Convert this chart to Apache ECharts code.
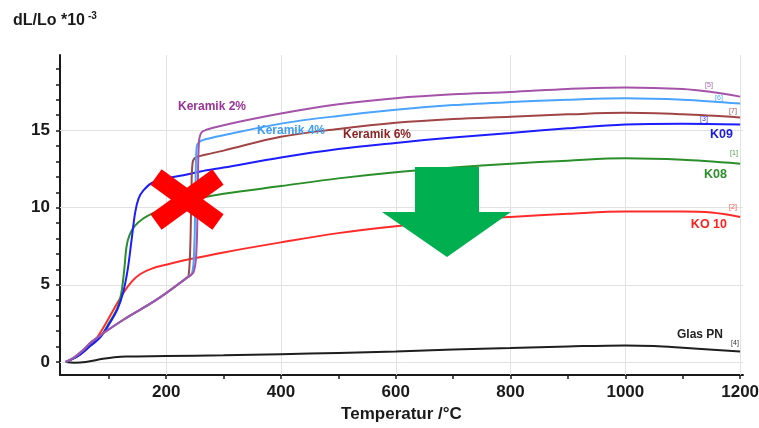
<!DOCTYPE html>
<html>
<head>
<meta charset="utf-8">
<script src="https://cdn.jsdelivr.net/npm/echarts@6/dist/echarts.min.js"></script>
<style>
html,body{margin:0;padding:0;background:#fff;}
#chart{width:759px;height:428px;}
</style>
</head>
<body>
<div id="chart"></div>
<script>
// Data: [temperature °C, dL/Lo *10^-3]
const k08 = [[25,0],[45,0.35],[65,0.95],[85,1.6],[100,2.5],[115,3.5],[122,4.5],[127,6.0],[131,7.5],[136,8.2],[145,8.8],[160,9.3],[180,9.7],[215,10.2],[250,10.55],[300,10.9],[400,11.4],[500,11.9],[600,12.3],[700,12.6],[800,12.85],[900,13.05],[1000,13.2],[1100,13.1],[1200,12.85]];
const k09 = [[25,0],[45,0.35],[65,0.95],[85,1.6],[100,2.4],[115,3.4],[125,4.5],[133,6.0],[140,8.0],[146,9.7],[152,10.6],[160,11.1],[175,11.6],[200,11.9],[230,12.1],[260,12.35],[300,12.6],[400,13.25],[500,13.8],[600,14.2],[700,14.55],[800,14.85],[900,15.15],[1000,15.4],[1100,15.45],[1200,15.4]];
const ko10 = [[25,0],[45,0.35],[65,0.95],[80,1.6],[95,2.5],[110,3.5],[126,4.5],[140,5.2],[155,5.7],[175,6.05],[200,6.3],[240,6.65],[300,7.1],[400,7.75],[500,8.35],[600,8.8],[700,9.15],[800,9.4],[900,9.6],[1000,9.75],[1100,9.75],[1150,9.68],[1200,9.4]];
const ker2 = [[25,0],[40,0.3],[55,0.75],[70,1.3],[124,2.7],[182,4.0],[234,5.4],[248,5.85],[253,7.5],[255,11],[257,14.2],[261,14.85],[270,15.05],[300,15.35],[400,16.1],[500,16.7],[600,17.1],[700,17.35],[800,17.5],[900,17.7],[1000,17.8],[1100,17.7],[1150,17.5],[1200,17.2]];
const ker4 = [[25,0],[40,0.3],[55,0.75],[70,1.3],[124,2.7],[182,4.0],[234,5.4],[245,5.75],[249,7.5],[251,11],[253,13.9],[257,14.25],[270,14.45],[300,14.7],[400,15.45],[500,15.95],[600,16.35],[700,16.65],[800,16.85],[900,17.0],[1000,17.1],[1100,17.0],[1200,16.75]];
const ker6 = [[25,0],[40,0.3],[55,0.75],[70,1.3],[124,2.7],[182,4.0],[234,5.4],[239,5.6],[242,7.5],[244,11],[246,12.9],[251,13.25],[270,13.45],[300,13.7],[400,14.6],[500,15.1],[600,15.5],[700,15.75],[800,15.9],[900,16.05],[1000,16.15],[1100,16.05],[1200,15.85]];
const glasPN = [[25,0],[40,-0.05],[60,0.0],[90,0.2],[110,0.3],[130,0.35],[200,0.38],[300,0.43],[400,0.5],[500,0.58],[600,0.68],[700,0.8],[800,0.9],[900,1.0],[1000,1.07],[1050,1.03],[1100,0.92],[1200,0.68]];

const xTickValues = [100,200,300,400,500,600,700,800,900,1000,1100,1200];
const xLabelValues = [200,400,600,800,1000,1200];
const yTickValues = [0,1,2,3,4,5,6,7,8,9,10,11,12,13,14,15,16,17,18,19];
const yLabelValues = [0,5,10,15];
const ySplitValues = [0,5,10,15];
const xSplitValues = [200,400,600,800,1000,1200];

const FONT = '"Liberation Sans", Arial, Helvetica, sans-serif';

const chart = echarts.init(document.getElementById('chart'), null, {renderer:'canvas'});

function lineSeries(name, data, color, width) {
  return {
    name: name, type: 'line', data: data, showSymbol: false, symbol: 'none',
    smooth: 0.35, z: 6,
    lineStyle: {color: color, width: width || 2},
    emphasis: {disabled: true}, silent: true, animation: false
  };
}

const gridMarks = [].concat(
  ySplitValues.map(v => ({yAxis: v})),
  xSplitValues.map(v => ({xAxis: v}))
);

const option = {
  animation: false,
  backgroundColor: '#ffffff',
  grid: {left: 60, right: 16, top: 55, bottom: 53, containLabel: false, outerBoundsMode: 'none'},
  xAxis: {
    type: 'value', min: 15, max: 1205,
    name: 'Temperatur /°C', nameLocation: 'middle', nameGap: 31,
    nameTextStyle: {fontFamily: FONT, fontWeight: 'bold', fontSize: 17, color: '#1a1a1a'},
    axisLine: {show: true, onZero: false, lineStyle: {color: '#1a1a1a', width: 2}},
    axisTick: {show: true, customValues: xTickValues, length: 4, lineStyle: {color: '#1a1a1a', width: 1.5}},
    axisLabel: {customValues: xLabelValues, formatter: v => String(v), fontFamily: FONT, fontWeight: 'bold', fontSize: 17, color: '#1a1a1a', margin: 9},
    splitLine: {show: false}
  },
  yAxis: {
    type: 'value', min: -0.85, max: 19.9,
    axisLine: {show: true, onZero: false, lineStyle: {color: '#1a1a1a', width: 2}},
    axisTick: {show: true, customValues: yTickValues, length: 4, lineStyle: {color: '#1a1a1a', width: 1.5}},
    axisLabel: {customValues: yLabelValues, formatter: v => String(v), fontFamily: FONT, fontWeight: 'bold', fontSize: 17, color: '#1a1a1a', margin: 10},
    splitLine: {show: false}
  },
  series: [
    {
      type: 'line', data: [], silent: true, z: 1,
      markLine: {
        silent: true, z: 1, symbol: ['none','none'], animation: false,
        label: {show: false}, emphasis: {disabled: true},
        lineStyle: {color: '#e2e2e2', width: 1, type: 'solid'},
        data: gridMarks
      }
    },
    lineSeries('Glas PN', glasPN, '#1e1e1e', 2),
    lineSeries('KO 10', ko10, '#ff2b2b', 2),
    lineSeries('K08', k08, '#2a8f2a', 2),
    lineSeries('K09', k09, '#1c1cff', 2),
    lineSeries('Keramik 6%', ker6, '#a04545', 2),
    lineSeries('Keramik 4%', ker4, '#4aa3ff', 2),
    lineSeries('Keramik 2%', ker2, '#a453a8', 2)
  ],
  graphic: [
    {type:'text', x:13, y:21, z:10, style:{text:'dL/Lo *10', font:'bold 16px ' + FONT, fill:'#1a1a1a', align:'left', verticalAlign:'middle'}},
    {type:'text', x:88, y:16, z:10, style:{text:'-3', font:'bold 10px ' + FONT, fill:'#1a1a1a', align:'left', verticalAlign:'middle'}},

    {type:'text', x:178, y:107, z:10, style:{text:'Keramik 2%', font:'bold 12px ' + FONT, fill:'#993399', align:'left', verticalAlign:'middle'}},
    {type:'text', x:257, y:131, z:10, style:{text:'Keramik 4%', font:'bold 12px ' + FONT, fill:'#3d9cf5', align:'left', verticalAlign:'middle'}},
    {type:'text', x:343, y:135, z:10, style:{text:'Keramik 6%', font:'bold 12px ' + FONT, fill:'#8b2323', align:'left', verticalAlign:'middle'}},
    {type:'text', x:733, y:135, z:10, style:{text:'K09', font:'bold 12.5px ' + FONT, fill:'#1c1ce0', align:'right', verticalAlign:'middle'}},
    {type:'text', x:727, y:175, z:10, style:{text:'K08', font:'bold 12.5px ' + FONT, fill:'#2a8f2a', align:'right', verticalAlign:'middle'}},
    {type:'text', x:727, y:225, z:10, style:{text:'KO 10', font:'bold 12.5px ' + FONT, fill:'#ff2020', align:'right', verticalAlign:'middle'}},
    {type:'text', x:723, y:335, z:10, style:{text:'Glas PN', font:'bold 12px ' + FONT, fill:'#222222', align:'right', verticalAlign:'middle'}},

    {type:'text', x:709, y:85, z:10, style:{text:'[5]', font:'7px ' + FONT, fill:'#a060a8', align:'center', verticalAlign:'middle'}},
    {type:'text', x:719, y:98, z:10, style:{text:'[6]', font:'7px ' + FONT, fill:'#4aa3ff', align:'center', verticalAlign:'middle'}},
    {type:'text', x:733, y:111, z:10, style:{text:'[7]', font:'7px ' + FONT, fill:'#a05050', align:'center', verticalAlign:'middle'}},
    {type:'text', x:704, y:119, z:10, style:{text:'[3]', font:'7px ' + FONT, fill:'#3a3aff', align:'center', verticalAlign:'middle'}},
    {type:'text', x:734, y:153, z:10, style:{text:'[1]', font:'7px ' + FONT, fill:'#4a9a4a', align:'center', verticalAlign:'middle'}},
    {type:'text', x:733, y:207, z:10, style:{text:'[2]', font:'7px ' + FONT, fill:'#ff5050', align:'center', verticalAlign:'middle'}},
    {type:'text', x:735, y:343, z:10, style:{text:'[4]', font:'7px ' + FONT, fill:'#333333', align:'center', verticalAlign:'middle'}},

    {type:'line', z:20, shape:{x1:156, y1:177, x2:218, y2:222}, style:{stroke:'#ff0000', lineWidth:19, lineCap:'butt'}},
    {type:'line', z:20, shape:{x1:218, y1:177, x2:156, y2:222}, style:{stroke:'#ff0000', lineWidth:19, lineCap:'butt'}},

    {type:'polygon', z:20, shape:{points:[[415,167],[479,167],[479,212],[511,212],[447,257],[382,212],[415,212]]}, style:{fill:'#00b050'}}
  ]
};
chart.setOption(option);
</script>
</body>
</html>
